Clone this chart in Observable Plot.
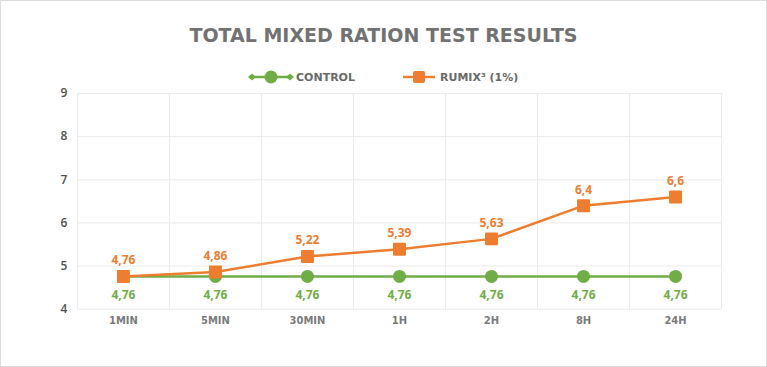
<!DOCTYPE html>
<html><head><meta charset="utf-8">
<script src="https://cdn.jsdelivr.net/npm/d3@7"></script>
<script src="https://cdn.jsdelivr.net/npm/@observablehq/plot@0.6"></script>
<style>
body{margin:0;background:#fff;}
#frame{position:relative;width:765px;height:365px;border:1px solid #dcdcdc;overflow:hidden;background:#fff}
#title{position:absolute;left:0;width:765px;top:23px;text-align:center;font:bold 19px "DejaVu Sans";color:#727272;line-height:22px}
#legend{position:absolute;left:-1px;top:65px}
#chart{position:absolute;left:-1px;top:79px}
</style>
</head><body>
<div id="frame">
  <div id="title">TOTAL MIXED RATION TEST RESULTS</div>
  <svg id="legend" width="767" height="22"></svg>
  <div id="chart"></div>
</div>
<script>
const categories = ["1MIN", "5MIN", "30MIN", "1H", "2H", "8H", "24H"];
const controlValues = [4.76, 4.76, 4.76, 4.76, 4.76, 4.76, 4.76];
const rumixValues = [4.76, 4.86, 5.22, 5.39, 5.63, 6.4, 6.6];
const yTicks = [4, 5, 6, 7, 8, 9];
const seriesNames = ["CONTROL", "RUMIX³ (1%)"];

const GREEN = "#70AD47", ORANGE = "#ED7D31";
const control = categories.map((c, i) => ({i, v: controlValues[i]}));
const rumix = categories.map((c, i) => ({i, v: rumixValues[i]}));
const fmt = d => String(d.v).replace(".", ",");

// legend
const lg = d3.select("#legend");
const cy = 11;
lg.append("line").attr("x1", 252).attr("x2", 290).attr("y1", cy).attr("y2", cy).attr("stroke", GREEN).attr("stroke-width", 2.5);
[252, 290].forEach(x => lg.append("path").attr("d", `M${x-4},${cy}L${x},${cy-3.5}L${x+4},${cy}L${x},${cy+3.5}Z`).attr("fill", GREEN));
lg.append("circle").attr("cx", 271).attr("cy", cy).attr("r", 6.5).attr("fill", GREEN);
lg.append("text").attr("x", 296).attr("y", cy).attr("dy", "0.36em").attr("font-family", "DejaVu Sans").attr("font-weight", "bold").attr("font-size", 11).attr("fill", "#6a6a6a").text(seriesNames[0]);
lg.append("line").attr("x1", 403).attr("x2", 435).attr("y1", cy).attr("y2", cy).attr("stroke", ORANGE).attr("stroke-width", 2.5);
lg.append("rect").attr("x", 413).attr("y", cy-6).attr("width", 12).attr("height", 12).attr("rx", 2).attr("fill", ORANGE);
lg.append("text").attr("x", 440).attr("y", cy).attr("dy", "0.36em").attr("font-family", "DejaVu Sans").attr("font-weight", "bold").attr("font-size", 11).attr("fill", "#6a6a6a").text(seriesNames[1]);

const chart = Plot.plot({
  width: 767,
  height: 259,
  marginLeft: 77,
  marginRight: 45,
  marginTop: 13,
  marginBottom: 30,
  style: {fontFamily: "Open Sans", background: "transparent"},
  x: {domain: [-0.5, categories.length - 0.5]},
  y: {domain: [4, 9]},
  marks: [
    Plot.ruleY(yTicks, {stroke: "#ebebeb", strokeWidth: 1}),
    Plot.ruleX(d3.range(-0.5, categories.length, 1), {stroke: "#ebebeb", strokeWidth: 1}),
    Plot.axisY({ticks: yTicks, tickFormat: d => String(d), tickSize: 0, tickPadding: 10, fontSize: 12, fontWeight: 600, fill: "#505050", label: null}),
    Plot.axisX({ticks: d3.range(categories.length), tickFormat: i => categories[i], tickSize: 0, tickPadding: 8, fontSize: 10, fontWeight: "bold", fontFamily: "DejaVu Sans", fill: "#7a7a7a", label: null}),
    Plot.line(control, {x: "i", y: "v", stroke: GREEN, strokeWidth: 2.5}),
    Plot.dot(control, {x: "i", y: "v", r: 6.5, fill: GREEN}),
    Plot.text(control, {x: "i", y: "v", text: fmt, dy: 19, fill: GREEN, fontSize: 12, fontWeight: "bold"}),
    Plot.line(rumix, {x: "i", y: "v", stroke: ORANGE, strokeWidth: 2.5}),
    Plot.dot(rumix, {x: "i", y: "v", symbol: "square", r: 6.2, fill: ORANGE, stroke: ORANGE, strokeWidth: 2, strokeLinejoin: "round"}),
    Plot.text(rumix, {x: "i", y: "v", text: fmt, dy: -16, fill: ORANGE, fontSize: 12, fontWeight: "bold"})
  ]
});
document.getElementById("chart").appendChild(chart);
</script>
</body></html>
